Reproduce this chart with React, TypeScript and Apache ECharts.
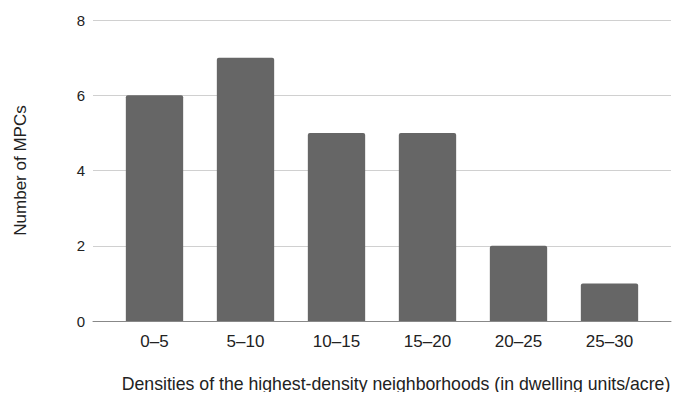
import React, { useEffect, useRef } from "react";
import * as echarts from "echarts";

const categories = ["0–5", "5–10", "10–15", "15–20", "20–25", "25–30"];
const counts = [6, 7, 5, 5, 2, 1];
const yTicks = [0, 2, 4, 6, 8];
const xTitle = "Densities of the highest-density neighborhoods (in dwelling units/acre)";
const yTitle = "Number of MPCs";

export default function App() {
  const ref = useRef<HTMLDivElement>(null);
  useEffect(() => {
    if (!ref.current) return;
    const chart = echarts.init(ref.current, null, { renderer: "svg" });
    const font = "Arial, 'Liberation Sans', sans-serif";
    chart.setOption({
      animation: false,
      textStyle: { fontFamily: font },
      grid: [
        { left: 93, right: 14, top: 20, bottom: 79 },
        { left: 109, right: 30, top: 20, bottom: 79 },
      ],
      xAxis: [
        {
          gridIndex: 0,
          type: "value",
          min: 0,
          max: 1,
          axisLine: { show: true, onZero: false, lineStyle: { color: "#888", width: 1 } },
          axisTick: { show: false },
          axisLabel: { show: false },
          splitLine: { show: false },
          name: xTitle,
          nameLocation: "middle",
          nameGap: 54,
          nameTextStyle: { color: "#222", fontSize: 17.7, fontFamily: font, padding: [0, 0, 0, 28] },
        },
        {
          gridIndex: 1,
          type: "category",
          data: categories,
          axisLine: { show: false },
          axisTick: { show: false },
          axisLabel: { color: "#222", fontSize: 17, margin: 12, fontFamily: font },
        },
      ],
      yAxis: [
        {
          gridIndex: 0,
          type: "value",
          min: yTicks[0],
          max: yTicks[yTicks.length - 1],
          interval: 2,
          axisLine: { show: false },
          axisTick: { show: false },
          axisLabel: { color: "#222", fontSize: 15, margin: 8, fontFamily: font },
          splitLine: { lineStyle: { color: "#d0d0d0", width: 1 } },
          name: yTitle,
          nameLocation: "middle",
          nameGap: 64,
          nameTextStyle: { color: "#222", fontSize: 17, fontFamily: font },
        },
        {
          gridIndex: 1,
          type: "value",
          min: yTicks[0],
          max: yTicks[yTicks.length - 1],
          show: false,
          splitLine: { show: false },
        },
      ],
      series: [
        {
          type: "bar",
          xAxisIndex: 1,
          yAxisIndex: 1,
          data: counts,
          barWidth: "63%",
          itemStyle: { color: "#666666", borderRadius: [2, 2, 0, 0] },
        },
      ],
    });
    return () => chart.dispose();
  }, []);
  return <div ref={ref} style={{ width: 685, height: 400, margin: -8 }} />;
}
